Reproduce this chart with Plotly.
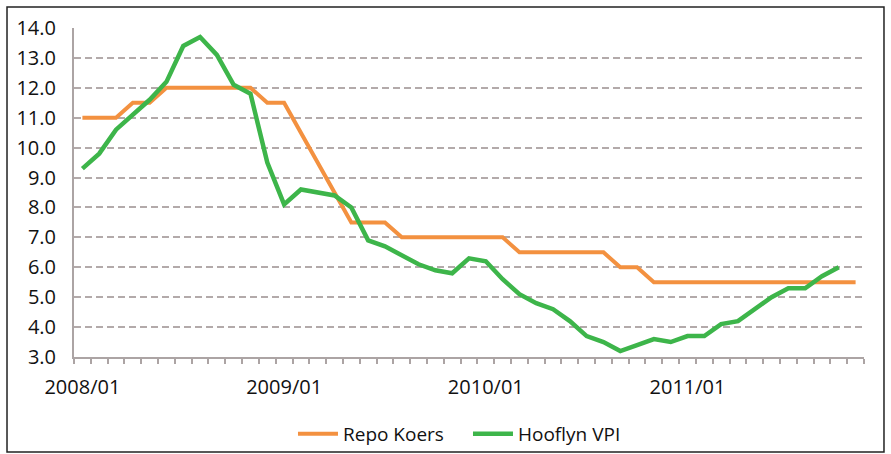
import plotly.graph_objects as go

# Categories: monthly, 2008/01 .. 2011/11
months = [f"{y}/{m:02d}" for y in range(2008, 2012) for m in range(1, 13)][:47]
tick_labels = ["2008/01", "2009/01", "2010/01", "2011/01"]

# Repo Koers (%)
repo = [11.0, 11.0, 11.0, 11.5, 11.5, 12.0, 12.0, 12.0, 12.0, 12.0,
        12.0, 11.5, 11.5, 10.5, 9.5, 8.5, 7.5, 7.5, 7.5, 7.0,
        7.0, 7.0, 7.0, 7.0, 7.0, 7.0, 6.5, 6.5, 6.5, 6.5,
        6.5, 6.5, 6.0, 6.0, 5.5, 5.5, 5.5, 5.5, 5.5, 5.5,
        5.5, 5.5, 5.5, 5.5, 5.5, 5.5, 5.5]

# Hooflyn VPI (%)
vpi = [9.3, 9.8, 10.6, 11.1, 11.6, 12.2, 13.4, 13.7, 13.1, 12.1,
       11.8, 9.5, 8.1, 8.6, 8.5, 8.4, 8.0, 6.9, 6.7, 6.4,
       6.1, 5.9, 5.8, 6.3, 6.2, 5.6, 5.1, 4.8, 4.6, 4.2,
       3.7, 3.5, 3.2, 3.4, 3.6, 3.5, 3.7, 3.7, 4.1, 4.2,
       4.6, 5.0, 5.3, 5.3, 5.7, 6.0]

x = list(range(len(months)))
tickvals = [months.index(t) for t in tick_labels]

ORANGE = "#F39140"
GREEN = "#3DB54A"
AXIS = "#ACA4A4"
GRID = "#B3AAAA"
TXT = "#111111"
FONT = "Open Sans"

fig = go.Figure()
fig.add_trace(go.Scatter(
    x=x, y=repo, name="Repo Koers", mode="lines",
    customdata=months, hovertemplate="%{customdata}: %{y:.1f}<extra>Repo Koers</extra>",
    line=dict(color=ORANGE, width=4)))
fig.add_trace(go.Scatter(
    x=x[:len(vpi)], y=vpi, name="Hooflyn VPI", mode="lines",
    customdata=months[:len(vpi)], hovertemplate="%{customdata}: %{y:.1f}<extra>Hooflyn VPI</extra>",
    line=dict(color=GREEN, width=4.5)))

fig.update_layout(
    width=891, height=454, autosize=False,
    margin=dict(l=74, r=27, t=28, b=97, pad=0),
    paper_bgcolor="white", plot_bgcolor="white",
    font=dict(family=FONT, size=20, color=TXT),
    showlegend=True,
    legend=dict(orientation="h", xref="paper", x=0.2772, xanchor="left",
                yref="container", y=0.044, yanchor="middle",
                font=dict(family=FONT, size=19, color=TXT), bgcolor="rgba(0,0,0,0)",
                itemwidth=40, entrywidth=120, entrywidthmode="pixels"),
    xaxis=dict(
        range=[-0.5, len(months) - 0.5], automargin=False,
        tickmode="array", tickvals=tickvals, ticktext=tick_labels,
        ticks="", showgrid=False, zeroline=False,
        showline=True, linecolor=AXIS, linewidth=2,
        ticklabelstandoff=11,
        tickfont=dict(family=FONT, size=20, color=TXT),
        minor=dict(ticks="outside", ticklen=5, tickwidth=1.5, tickcolor=AXIS,
                   tick0=-0.5, dtick=1, showgrid=False),
    ),
    yaxis=dict(
        range=[3, 14], tick0=3, dtick=1, tickformat=".1f", automargin=False,
        ticks="", showgrid=True, gridcolor=GRID, gridwidth=1.6, griddash="7px,4px",
        zeroline=False, showline=True, linecolor=AXIS, linewidth=2,
        ticklabelstandoff=12,
        tickfont=dict(family=FONT, size=20, color=TXT),
    ),
    shapes=[dict(type="rect", xref="paper", yref="paper",
                 x0=-0.0848, x1=1.0253, y0=-0.2888, y1=1.0638,
                 line=dict(color="#222222", width=1.5), fillcolor="rgba(0,0,0,0)",
                 layer="below")],
)

fig.write_html("out.html", config={"displayModeBar": False},
               post_script="document.body.style.margin='0';document.body.style.overflow='hidden';")
